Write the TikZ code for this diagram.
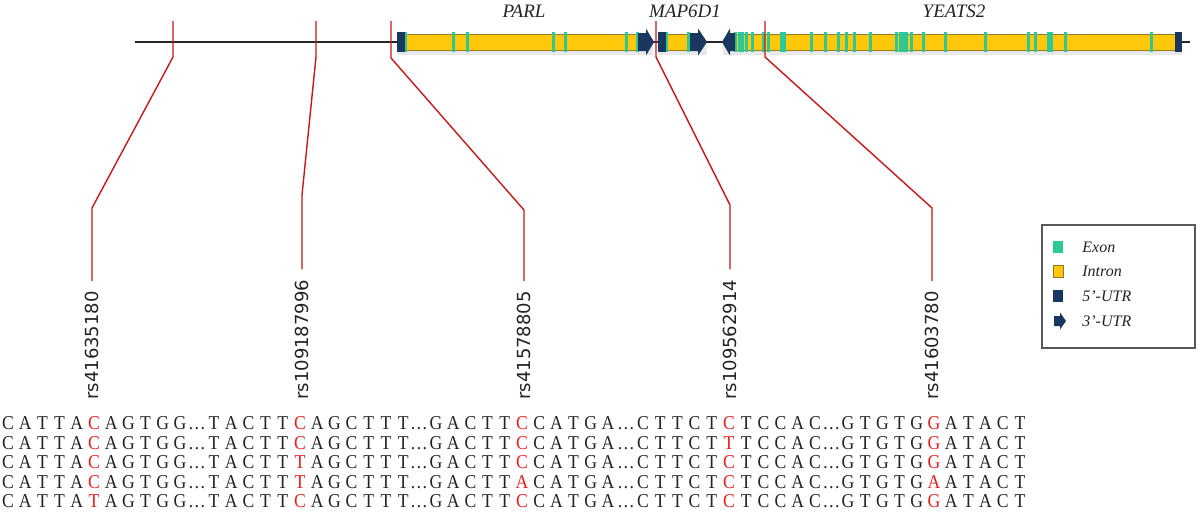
\documentclass[tikz,border=0pt]{standalone}
\usepackage{fontspec}
\setmainfont{Liberation Serif}
\newfontfamily\labfont{DejaVu Sans}
\newfontfamily\seqfont[FakeStretch=0.9]{Liberation Serif}
\definecolor{intron}{RGB}{255,200,10}
\definecolor{intronedge}{RGB}{150,120,40}
\definecolor{exon}{RGB}{45,200,150}
\definecolor{utr}{RGB}{25,55,95}
\definecolor{snpred}{RGB}{195,25,25}
\definecolor{basered}{RGB}{232,30,30}
\definecolor{ink}{RGB}{35,35,35}
\tikzset{
  intronbar/.style={fill=intron, draw=intronedge, line width=0.4pt},
  exonmark/.style={fill=exon},
  utrfill/.style={fill=utr},
  shadowfill/.style={fill=black, opacity=0.09},
  snp/.style={draw=snpred, line width=0.7pt},
  backbone/.style={draw=black!85, line width=1pt},
  gene/.style={font=\fontsize{9.5}{11}\selectfont\itshape, text=ink, inner sep=0pt},
  rslab/.style={font=\labfont\fontsize{9}{10}\selectfont, text=ink, rotate=90, anchor=west, inner xsep=5pt, inner ysep=0pt},
  seq/.style={anchor=base, inner sep=0pt, font=\seqfont\fontsize{9.8}{10}\selectfont, text=ink},
  seqred/.style={seq, text=basered},
  legendbox/.style={draw=black!65, line width=0.6pt, fill=white, minimum width=76.5pt, minimum height=61.5pt, inner sep=0pt},
  legtext/.style={anchor=west, inner sep=0pt, font=\fontsize{8}{10}\selectfont\itshape, text=ink}
}
\begin{document}
\begin{tikzpicture}[x=0.5pt,y=-0.5pt]
\useasboundingbox (0,0) rectangle (1200,520);

% ---------------- gene track ----------------
\coordinate (bbL) at (135,42);
\coordinate (bbR) at (1190,42);
\draw[backbone] (bbL) -- (bbR);

% shadows
\fill[shadowfill] (398,40) rectangle (653,55);
\fill[shadowfill] (659,40) rectangle (707,55);
\fill[shadowfill] (723,40) rectangle (1182,55);

% introns (bars)
\draw[intronbar] (405,34) rectangle (638,50);
\draw[intronbar] (666,34) rectangle (690,50);
\draw[intronbar] (733,34) rectangle (1175,50);

% exons
\foreach \x in {405.5,453,467,553,565,626,637,
                666.5,688,
                735,739,742.3,746,752.7,763.3,768,781,784,811.7,825,838.3,846,854,870,
                896.7,900,903.3,906.7,911.7,923.3,945,985,1028.7,1035.5,1048.5,1051.5,1065,1151.7}
  \fill[exonmark] (\x-1.5,32) rectangle (\x+1.5,52);

% 5'-UTR blocks
\fill[utrfill] (397,32) rectangle (405,52);
\fill[utrfill] (658,32) rectangle (666,52);
\fill[utrfill] (1175,32) rectangle (1182,52);

% 3'-UTR arrows
\fill[utrfill] (638,33) -- (646,33) -- (646,28.5) -- (654,42) -- (646,55.5) -- (646,51) -- (638,51) -- cycle;
\fill[utrfill] (690,33) -- (698,33) -- (698,28.5) -- (707,42) -- (698,55.5) -- (698,51) -- (690,51) -- cycle;
\fill[utrfill] (735,33) -- (730,33) -- (730,28.5) -- (722,42) -- (730,55.5) -- (730,51) -- (735,51) -- cycle;

% gene names
\node[gene] (parl) at (524,11) {PARL};
\node[gene] (map6d1) at (685,11) {MAP6D1};
\node[gene] (yeats2) at (954,11) {YEATS2};

% ---------------- SNP labels and connectors ----------------
\node[rslab] (lab1) at (92,410) {rs41635180};
\node[rslab] (lab2) at (302,410) {rs109187996};
\node[rslab] (lab3) at (524,410) {rs41578805};
\node[rslab] (lab4) at (730,410) {rs109562914};
\node[rslab] (lab5) at (932,410) {rs41603780};

\coordinate (t1) at (173,21); \coordinate (k1) at (173,57); \coordinate (m1) at (92,208);
\coordinate (t2) at (316,21); \coordinate (k2) at (316,57); \coordinate (m2) at (302,195);
\coordinate (t3) at (391,21); \coordinate (k3) at (391,58); \coordinate (m3) at (524,210);
\coordinate (t4) at (656,21); \coordinate (k4) at (656,57); \coordinate (m4) at (730,205);
\coordinate (t5) at (765,21); \coordinate (k5) at (765,57); \coordinate (m5) at (932,208);
\foreach \i in {1,...,5}
  \draw[snp] (t\i) -- (k\i) -- (m\i) -- (lab\i.east);

% ---------------- legend ----------------
\node[legendbox] (legend) at (1118.5,286.5) {};
\fill[exonmark] (1053,241) rectangle (1063,253);
\draw[intronbar] (1053,265) rectangle (1063,277);
\fill[utrfill] (1053,290) rectangle (1063,302);
\fill[utrfill] (1054,316) -- (1060,316) -- (1060,312.5) -- (1066,321) -- (1060,329.5) -- (1060,326) -- (1054,326) -- cycle;
\node[legtext] (lexon) at (1082,247) {Exon};
\node[legtext] (lintron) at (1082,271) {Intron};
\node[legtext] (l5utr) at (1082,296) {5’-UTR};
\node[legtext] (l3utr) at (1082,321) {3’-UTR};

% ---------------- sequences ----------------
\foreach \g/\R/\pre/\reds/\suf in {
    1/94/{C,A,T,T,A}/{C,C,C,C,T}/{A,G,T,G,G},
    2/300/{T,A,C,T,T}/{C,C,T,T,C}/{A,G,C,T,T,T},
    3/522/{G,A,C,T,T}/{C,C,C,A,C}/{C,A,T,G,A},
    4/729/{C,T,T,C,T}/{C,T,C,C,C}/{T,C,C,A,C},
    5/934/{G,T,G,T,G}/{G,G,G,A,G}/{A,T,A,C,T}} {
  \foreach \c [count=\row] in \reds {
    \pgfmathsetmacro\yb{429.5+19.5*(\row-1)}
    \node[seqred] (r\row-\g) at (\R,\yb) {\c};
  }
  \foreach \row in {1,...,5} {
    \pgfmathsetmacro\yb{429.5+19.5*(\row-1)}
    \foreach \c [count=\i] in \pre
      \node[seq] (p\row-\g-\i) at ({\R-(6-\i)*17.2},\yb) {\c};
    \foreach \c [count=\i] in \suf
      \node[seq] (q\row-\g-\i) at ({\R+\i*17.2},\yb) {\c};
  }
}
\foreach \row in {1,...,5} {
  \pgfmathsetmacro\yb{429.5+19.5*(\row-1)}
  \foreach \ex [count=\k] in {197,419,626,831.5}
    \node[seq] (e\row-\k) at (\ex,\yb) {…};
}
\end{tikzpicture}
\end{document}
